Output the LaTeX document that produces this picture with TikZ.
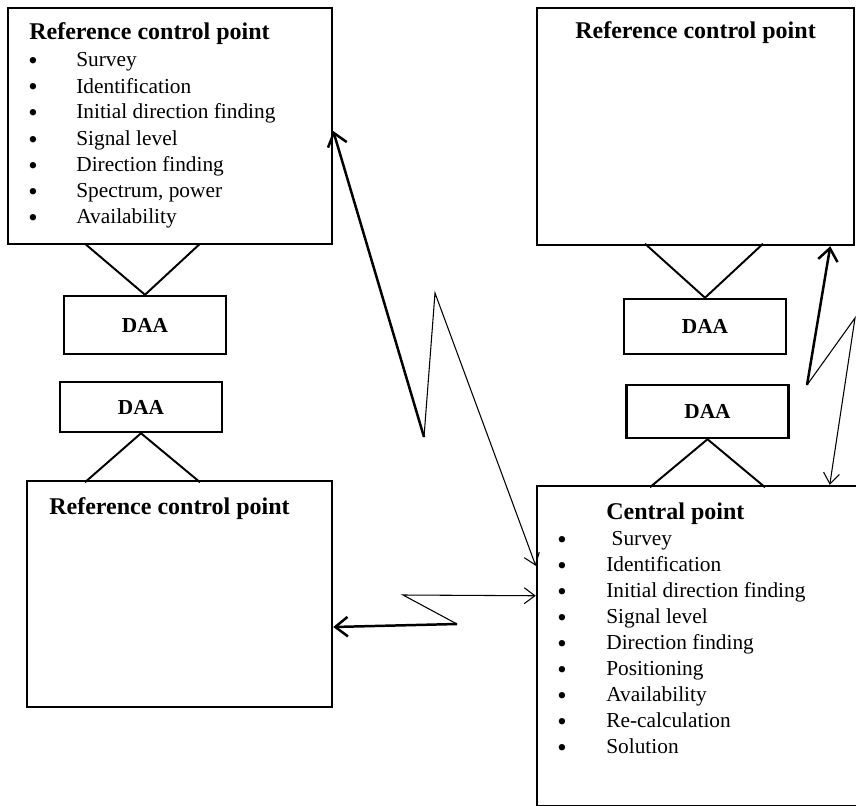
\documentclass[tikz,border=0pt]{standalone}
\usepackage{fontspec}
\setmainfont{Liberation Serif}
\usetikzlibrary{calc,positioning,arrows.meta}

\newcommand{\px}{0.5625pt}
\tikzset{
  box/.style={draw, line width=1.4pt, rectangle, inner sep=0pt},
  daa/.style={box, minimum width=162*\px, font=\fontsize{12}{14}\selectfont\bfseries},
  ttl/.style={anchor=base west, inner sep=0pt, font=\fontsize{13.5}{16}\selectfont\bfseries},
  itm/.style={anchor=base west, inner sep=0pt, font=\fontsize{12}{14}\selectfont},
  dot/.style={anchor=base, inner sep=0pt, font=\fontsize{15}{17}\selectfont},
  vee/.style={line width=1.1pt},
  link/.style={line width=0.6pt, -{Straight Barb[length=6pt,width=9pt]}},
  boldlink/.style={line width=1.4pt, -{Straight Barb[length=7pt,width=11pt]}},
}

\begin{document}
\begin{tikzpicture}[x=\px,y=-\px]
\useasboundingbox (0,0) rectangle (856,805);
% control points
\node[box, minimum width=324*\px, minimum height=236*\px] (r1) at (170,126){};
\node[box, minimum width=305*\px, minimum height=226*\px] (r2) at (179.5,594){};
\node[box, minimum width=317*\px, minimum height=237*\px] (r3) at (695.5,126.5){};
\node[box, minimum width=340*\px, minimum height=320*\px] (c) at (707,646){};
\node[ttl] (t1) at (29,40){Reference control point};
\node[ttl] (t2) at (49,514){Reference control point};
\node[ttl] (t3) at (575,39){Reference control point};
\node[ttl] (t4) at (606,519){Central point};
\foreach \txt [count=\i from 0] in {Survey, Identification, Initial direction finding, Signal level, Direction finding, {Spectrum, power}, Availability}{
  \node[dot] (b1\i) at (33,70+26*\i){\textbullet};
  \node[itm] (i1\i) at (76,67+26*\i){\txt};
}
\foreach \txt [count=\i from 0] in {{\ Survey}, Identification, Initial direction finding, Signal level, Direction finding, Positioning, Availability, Re-calculation, Solution}{
  \node[dot] (b4\i) at (562,548+26*\i){\textbullet};
  \node[itm] (i4\i) at (606,545+26*\i){\txt};
}
% DAA units
\node[daa, minimum height=58*\px] (d1) at (145,325){DAA};
\node[daa, minimum height=50*\px] (d2) at (141,407){DAA};
\node[daa, minimum height=55*\px] (d3) at (705,326.5){DAA};
\node[daa, minimum height=53*\px] (d4) at (707.5,411.5){DAA};
\draw[vee] ($(d1.north)+(-60,-51)$) -- (d1.north) -- ($(d1.north)+(55,-51)$);
\draw[vee] ($(d2.south)+(-56,49)$) -- (d2.south) -- ($(d2.south)+(59,49)$);
\draw[vee] ($(d3.north)+(-60,-54)$) -- (d3.north) -- ($(d3.north)+(58,-54)$);
\draw[vee] ($(d4.south)+(-57.5,48)$) -- (d4.south) -- ($(d4.south)+(57.5,48)$);
% radio links
\coordinate (k1) at (424,437);
\coordinate (k2) at (435,293);
\coordinate (k3) at (457,624);
\coordinate (k4) at (403,595);
\coordinate (k5) at (807,385);
\coordinate (k6) at (855,318);
\draw[boldlink] (k1) -- ($(r1.east)+(0,5)$);
\draw[link] (k1) -- (k2) -- ($(c.north west)+(0,81)$);
\draw[boldlink] (k3) -- ($(r2.east)+(0,33)$);
\draw[link] (k3) -- (k4) -- ($(c.north west)+(0,111)$);
\draw[boldlink] (k5) -- ($(r3.south east)+(-25,0)$);
\draw[link] (k5) -- (k6) -- ($(c.north west)+(294,0)$);
\end{tikzpicture}
\end{document}
